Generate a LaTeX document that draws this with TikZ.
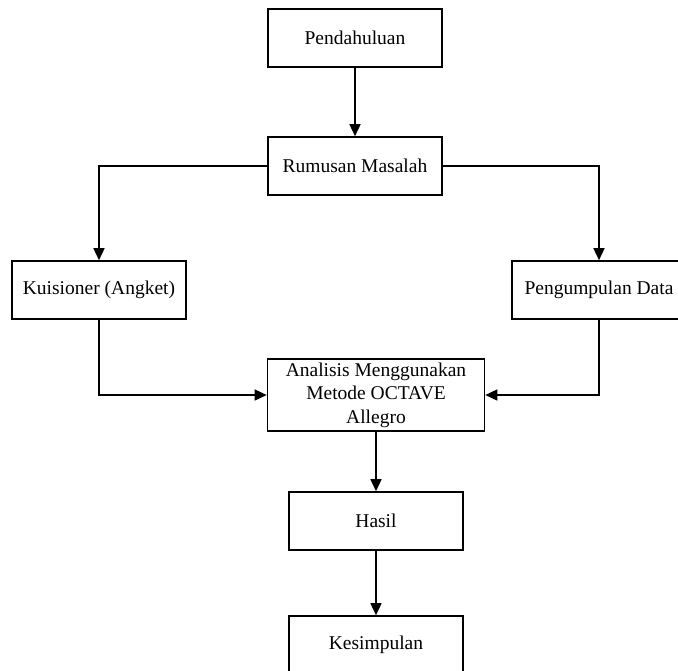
\documentclass[tikz,border=0pt]{standalone}
\usepackage{fontspec}
\setmainfont{Liberation Serif}
\usepackage{tikz}
\usetikzlibrary{positioning,arrows.meta}
\tikzset{
  stepbox/.style  = {draw=black, fill=white, line width=1.6pt, minimum width=174pt, minimum height=58pt,
                     inner sep=0pt, align=center, font=\fontsize{19.5}{23.5}\selectfont},
  widebox/.style  = {stepbox, minimum width=217pt, minimum height=72pt},
  flow/.style     = {-{Triangle[length=12pt,width=11pt]}, draw=black, line width=1.5pt},
}
\begin{document}
\begin{tikzpicture}[x=1pt,y=-1pt]
\path[use as bounding box] (0,0) rectangle (678,670);
\clip (0,0) rectangle (678,670);

% ---- boxes ----------------------------------------------------------------
\node[stepbox] (pend)  at (355,38)  {Pendahuluan};
\node[stepbox] (rum)   at (355,166) {Rumusan Masalah};
\node[stepbox] (kuis)  at (99,290)  {Kuisioner (Angket)};
\node[stepbox] (peng)  at (599,290) {Pengumpulan Data};
\node[widebox] (anal)  at (376,395) {Analisis Menggunakan\\Metode OCTAVE\\Allegro};
\node[stepbox] (hasil) at (376,521) {Hasil};
\node[stepbox] (kes)   at (376,645) {Kesimpulan};

% ---- connectors -----------------------------------------------------------
\draw[flow] (pend) -- (rum);
\draw[flow] (rum.west) -| (kuis);
\draw[flow] (rum.east) -| (peng);
\draw[flow] (kuis) |- (anal);
\draw[flow] (peng) |- (anal);
\draw[flow] (anal) -- (hasil);
\draw[flow] (hasil) -- (kes);

\end{tikzpicture}
\end{document}
